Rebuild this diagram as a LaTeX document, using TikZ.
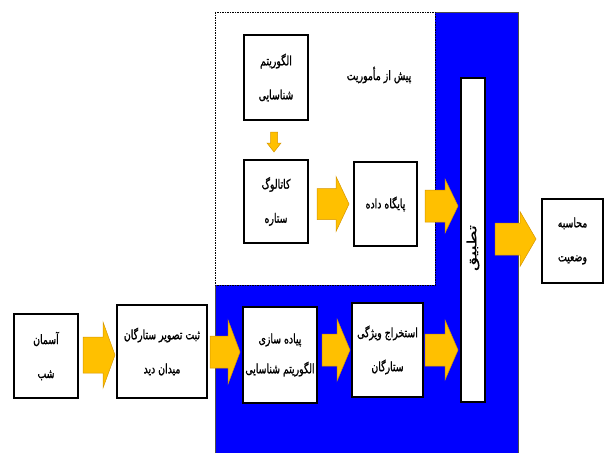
\documentclass[tikz,border=0pt]{standalone}
\usepackage{fontspec}
\newfontfamily\fa[Script=Arabic, FakeStretch=0.72, FakeBold=1.2]{DejaVu Sans}
\newfontfamily\fawide[Script=Arabic, FakeStretch=1.45, FakeBold=1.2]{DejaVu Sans}
\TeXXeTstate=1
\newcommand\RL[1]{\beginR #1\endR}
\newcommand\fatarrowH[6]{% x0, x1, yc, body half, head half, head length
  \path[fatarrow] (#1,#3-#4) -- (#2-#6,#3-#4) -- (#2-#6,#3-#5) -- (#2,#3)
    -- (#2-#6,#3+#5) -- (#2-#6,#3+#4) -- (#1,#3+#4) -- cycle;}
\newcommand\fatarrowV[6]{% y0, y1, xc, body half, head half, head length
  \path[fatarrow] (#3-#4,#1) -- (#3-#4,#2-#6) -- (#3-#5,#2-#6) -- (#3,#2)
    -- (#3+#5,#2-#6) -- (#3+#4,#2-#6) -- (#3+#4,#1) -- cycle;}
\definecolor{arrowfill}{RGB}{255,192,0}
\definecolor{arrowline}{RGB}{214,150,0}
\definecolor{bluebg}{RGB}{0,0,255}
\begin{document}
\begin{tikzpicture}[x=1pt,y=-1pt,
  box/.style={draw=black, fill=white, line width=1.6pt, align=center, inner sep=0pt,
    font=\fa\fontsize{13}{34}\selectfont},
  fatarrow/.style={fill=arrowfill, draw=arrowline, line width=0.5pt, line join=miter},
  plain/.style={font=\fa\fontsize{13}{14}\selectfont, inner sep=0pt}]
\useasboundingbox (0,0) rectangle (604,453);
% blue region
\fill[bluebg] (215,12) rectangle (518,453);
\draw[black!70, line width=0.6pt] (215,453) -- (215,12) -- (518,12) -- (518,453);
% pre-mission dashed area
\draw[fill=white, draw=black, line width=0.8pt, dash pattern=on 1.5pt off 1pt] (215,12) rectangle (435,285);
\node[plain] (pre) at (379,75) {\RL{پیش از مأموریت}};
% boxes
\node[box, minimum width=64, minimum height=85] (alg) at (276,77.5) {\RL{الگوریتم}\\\RL{شناسایی}};
\node[box, minimum width=64, minimum height=83] (cat) at (276,201.5) {\RL{کاتالوگ}\\\RL{ستاره}};
\node[box, minimum width=63, minimum height=84] (db) at (385.5,204) {\RL{پایگاه داده}};
\node[box, minimum width=24, minimum height=324] (match) at (473,240) {};
\node[plain, font=\fawide\fontsize{12.5}{14}\selectfont, rotate=90] (matchtxt) at (473,248) {\RL{تطبیق}};
\node[box, minimum width=61, minimum height=84] (pose) at (572.5,241) {\RL{محاسبه}\\\RL{وضعیت}};
\node[box, minimum width=64, minimum height=84] (sky) at (46,356) {\RL{آسمان}\\\RL{شب}};
\node[box, minimum width=90, minimum height=93] (img) at (162,351.5) {\RL{ثبت تصویر ستارگان}\\\RL{میدان دید}};
\node[box, minimum width=74, minimum height=96, font=\fa\fontsize{13}{30}\selectfont] (impl) at (280,355) {\RL{پیاده سازی}\\\RL{الگوریتم شناسایی}};
\node[box, minimum width=71, minimum height=94] (feat) at (387.5,350) {\RL{استخراج ویژگی}\\\RL{ستارگان}};
% arrows
\fatarrowV{132}{152}{274}{3.5}{7}{9}
\fatarrowH{317}{349}{204}{15.5}{27.5}{13}
\fatarrowH{425}{458}{206}{16}{27}{13}
\fatarrowH{495}{536}{239}{16}{27.5}{16}
\fatarrowH{83}{115}{355}{18}{33}{12}
\fatarrowH{210}{240}{352}{16}{32}{12}
\fatarrowH{322}{350}{350}{16}{31}{13}
\fatarrowH{425}{458}{350}{16}{30}{13}
\end{tikzpicture}
\end{document}
